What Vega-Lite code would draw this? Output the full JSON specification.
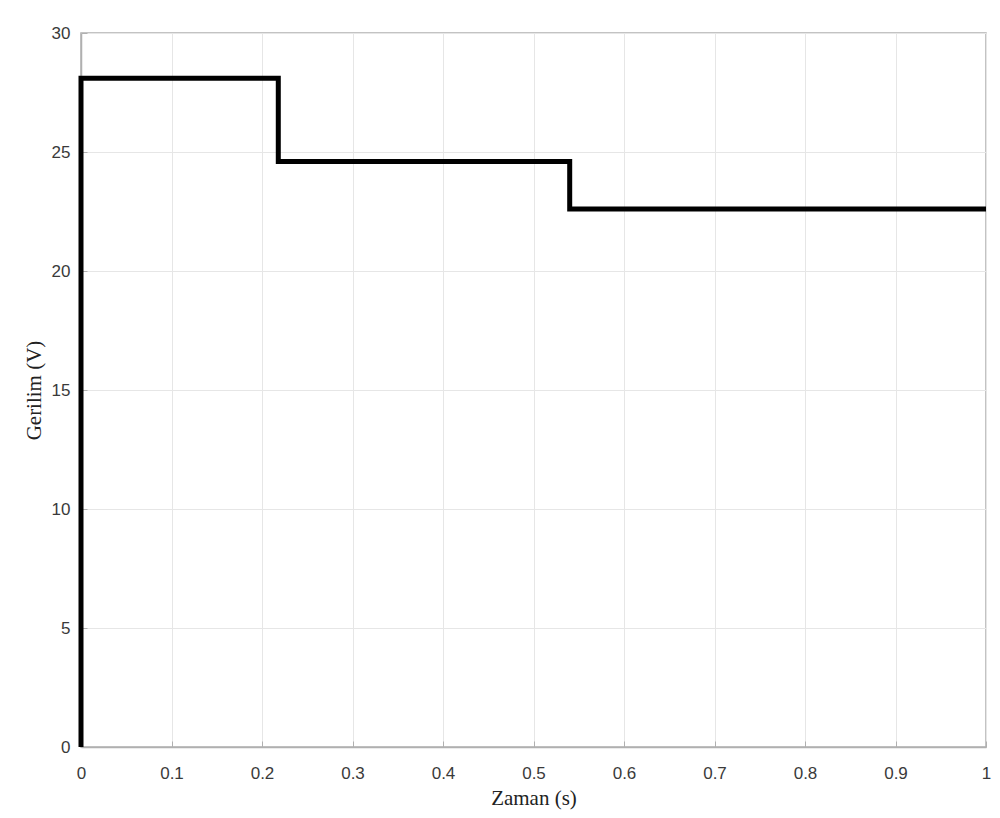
{
  "$schema": "https://vega.github.io/schema/vega-lite/v6.json",
  "width": 905,
  "height": 714,
  "autosize": {"type": "none"},
  "padding": {"left": 81, "top": 33, "right": 14, "bottom": 71},
  "background": "white",
  "config": {
    "view": {"stroke": "#b0b0b0", "strokeWidth": 1.5},
    "axis": {
      "labelFont": "Liberation Sans",
      "labelFontSize": 17,
      "labelColor": "#3a3a3a",
      "titleFont": "Liberation Serif",
      "titleFontSize": 21,
      "titleFontWeight": "normal",
      "titleColor": "#222222",
      "gridColor": "#e6e6e6",
      "gridWidth": 1,
      "domainColor": "#b0b0b0",
      "domainWidth": 1.5,
      "tickColor": "#b0b0b0",
      "tickSize": -6
    }
  },
  "data": {
    "values": [
      {"o": 0, "t": 0, "v": 0},
      {"o": 1, "t": 0, "v": 28.1},
      {"o": 2, "t": 0.218, "v": 28.1},
      {"o": 3, "t": 0.218, "v": 24.6},
      {"o": 4, "t": 0.54, "v": 24.6},
      {"o": 5, "t": 0.54, "v": 22.6},
      {"o": 6, "t": 1, "v": 22.6}
    ]
  },
  "mark": {"type": "line", "color": "black", "strokeWidth": 5, "strokeJoin": "miter", "clip": false},
  "encoding": {
    "x": {
      "field": "t", "type": "quantitative",
      "scale": {"domain": [0, 1], "nice": false},
      "axis": {"title": "Zaman (s)", "values": [0,0.1,0.2,0.3,0.4,0.5,0.6,0.7,0.8,0.9,1], "labelExpr": "format(datum.value, '~g')", "labelPadding": 24, "titlePadding": 6, "labelFlush": false}
    },
    "y": {
      "field": "v", "type": "quantitative",
      "scale": {"domain": [0, 30], "nice": false},
      "axis": {"title": "Gerilim (V)", "values": [0,5,10,15,20,25,30], "labelPadding": 17, "titlePadding": 7}
    },
    "order": {"field": "o"}
  }
}
